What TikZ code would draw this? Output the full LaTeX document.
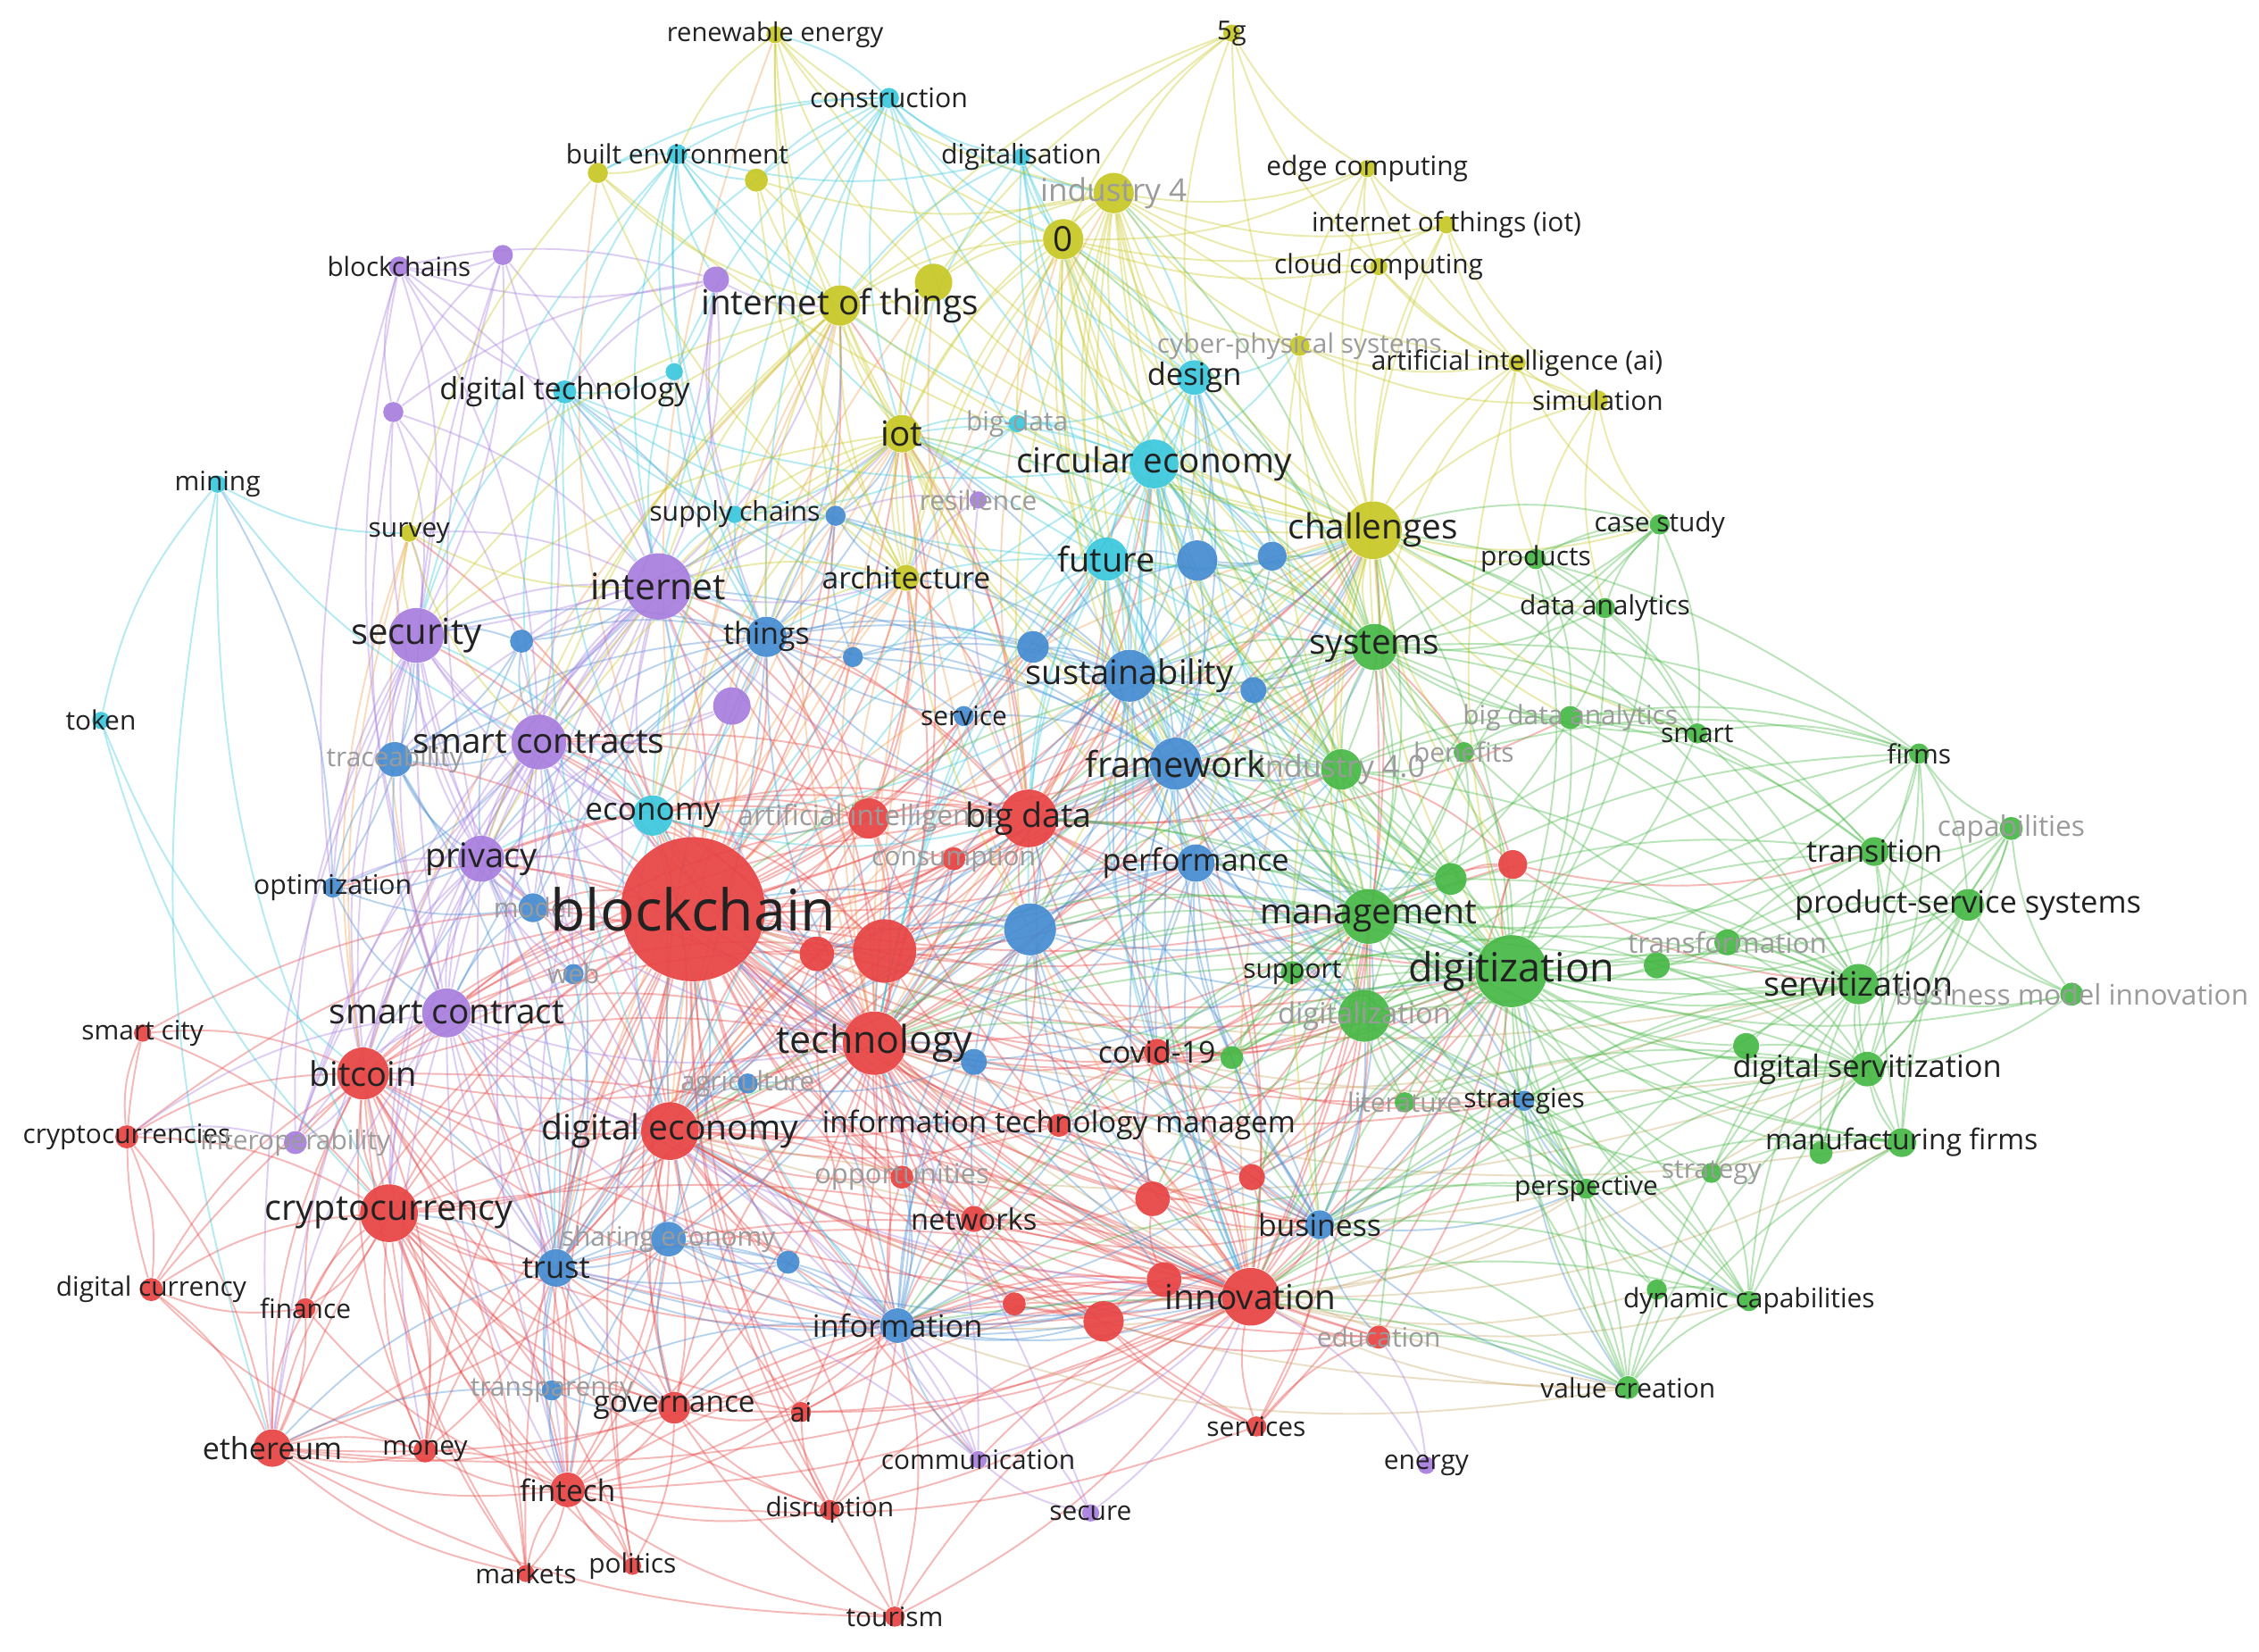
\documentclass[tikz,border=0pt]{standalone}
\usepackage{fontspec}
\setmainfont{Open Sans}
\pgfdeclarelayer{bg}
\pgfdeclarelayer{edges}
\pgfsetlayers{bg,edges,main}
\definecolor{cR}{RGB}{232,68,68}
\definecolor{cG}{RGB}{72,184,70}
\definecolor{cB}{RGB}{70,140,210}
\definecolor{cY}{RGB}{200,200,38}
\definecolor{cP}{RGB}{168,126,222}
\definecolor{cC}{RGB}{60,200,222}
\definecolor{cO}{RGB}{240,160,80}
\definecolor{cT}{RGB}{200,170,110}
\definecolor{txt}{RGB}{34,34,34}
\definecolor{gtx}{RGB}{155,155,155}
\newcommand\kd[5]{\node[dot=#4,fill=#5] (#1) at (#2,#3) {};}
\newcommand\kl[4][lab]{\node[#1,font=\fontsize{#4}{#4}\selectfont] (#2-t) at (#2) {#3};}
\newcommand\edges[3]{\foreach \nb in {#3} \draw[#1] (#2) to[bend right=14] (\nb);}
\begin{document}
\begin{tikzpicture}[x=0.016135cm,y=-0.016135cm,
  dot/.style={circle,inner sep=0pt,minimum size={#1*0.03227cm},draw=none,fill opacity=0.93},
  lab/.style={inner sep=0pt,text=txt},
  glab/.style={inner sep=0pt,text=gtx},
  ebase/.style={draw opacity=0.38,line width=0.55pt},
  eR/.style={ebase,draw=cR},
  eG/.style={ebase,draw=cG},
  eB/.style={ebase,draw=cB},
  eY/.style={ebase,draw=cY},
  eP/.style={ebase,draw=cP},
  eC/.style={ebase,draw=cC},
  eO/.style={ebase,draw=cO},
  eT/.style={ebase,draw=cT}]
\useasboundingbox (0,0) rectangle (1568,1146);
\begin{pgfonlayer}{bg}
\fill[white] (0,0) rectangle (1568,1146);
\end{pgfonlayer}
% ---------- yellow
\kd{ren}{538}{24}{6}{cY}
\kd{fiveg}{855}{23}{6}{cY}
\kd{ybe}{415}{120}{7}{cY}
\kd{yd2}{525}{125}{8}{cY}
\kd{ind4}{773}{134}{14}{cY}
\kd{zero}{738}{166}{14}{cY}
\kd{iotg}{583}{212}{14}{cY}
\kd{yd3}{648}{196}{13}{cY}
\kd{edge}{949}{117}{6}{cY}
\kd{iotp}{1004}{156}{6}{cY}
\kd{cloud}{957}{185}{6}{cY}
\kd{cps}{902}{240}{7}{cY}
\kd{aiai}{1053}{252}{6}{cY}
\kd{simu}{1109}{278}{7}{cY}
\kd{iot}{626}{301}{13}{cY}
\kd{surv}{284}{370}{6}{cY}
\kd{chal}{953}{368}{20}{cY}
\kd{arch}{629}{401}{9}{cY}
% ---------- cyan
\kd{cons}{617}{68}{7}{cC}
\kd{benv}{470}{107}{7}{cC}
\kd{digs}{709}{109}{6}{cC}
\kd{dtec}{392}{272}{8}{cC}
\kd{cd1}{468}{258}{6}{cC}
\kd{bigd}{706}{294}{6}{cC}
\kd{design}{829}{262}{12}{cC}
\kd{circ}{801}{322}{17}{cC}
\kd{mining}{151}{336}{6}{cC}
\kd{future}{768}{388}{15}{cC}
\kd{supc}{510}{357}{6}{cC}
\kd{token}{70}{500}{6}{cC}
\kd{econ}{453}{566}{14}{cC}
% ---------- purple
\kd{bchs}{277}{185}{7}{cP}
\kd{pd1}{349}{177}{7}{cP}
\kd{pd2}{497}{194}{9}{cP}
\kd{pd3}{273}{286}{7}{cP}
\kd{inet}{457}{407}{23}{cP}
\kd{secu}{289}{441}{19}{cP}
\kd{scs}{374}{515}{19}{cP}
\kd{pd4}{508}{490}{13}{cP}
\kd{resil}{679}{347}{6}{cP}
\kd{priv}{334}{596}{16}{cP}
\kd{sc}{310}{703}{17}{cP}
\kd{interop}{205}{793}{8}{cP}
\kd{comm}{679}{1013}{6}{cP}
\kd{secure}{757}{1050}{6}{cP}
\kd{energy}{990}{1017}{6}{cP}
% ---------- blue
\kd{bd1}{362}{445}{8}{cB}
\kd{things}{532}{442}{14}{cB}
\kd{bd2}{592}{456}{7}{cB}
\kd{supb}{580}{358}{7}{cB}
\kd{trace}{274}{527}{12}{cB}
\kd{serv}{669}{497}{7}{cB}
\kd{bd3}{717}{449}{11}{cB}
\kd{sust}{784}{469}{18}{cB}
\kd{bd4}{831}{389}{14}{cB}
\kd{bd5}{883}{386}{10}{cB}
\kd{bd6}{870}{479}{9}{cB}
\kd{frame}{816}{530}{18}{cB}
\kd{perf}{830}{599}{13}{cB}
\kd{optim}{231}{616}{7}{cB}
\kd{model}{370}{630}{10}{cB}
\kd{web}{398}{676}{7}{cB}
\kd{bd7}{715}{645}{18}{cB}
\kd{bd8}{676}{737}{9}{cB}
\kd{agri}{519}{752}{7}{cB}
\kd{strat}{1058}{764}{7}{cB}
\kd{sharing}{464}{860}{12}{cB}
\kd{bd9}{547}{876}{8}{cB}
\kd{trust}{386}{880}{13}{cB}
\kd{info}{623}{920}{12}{cB}
\kd{transp}{383}{965}{7}{cB}
\kd{busi}{916}{850}{10}{cB}
% ---------- red
\kd{bc}{481}{631}{50}{cR}
\kd{aint}{603}{568}{14}{cR}
\kd{bigdata}{714}{568}{20}{cR}
\kd{consum}{662}{596}{8}{cR}
\kd{rd1}{567}{662}{12}{cR}
\kd{rd2}{614}{660}{22}{cR}
\kd{tech}{607}{724}{22}{cR}
\kd{deco}{465}{785}{20}{cR}
\kd{itm}{735}{781}{8}{cR}
\kd{opp}{626}{817}{8}{cR}
\kd{netw}{676}{846}{9}{cR}
\kd{covid}{803}{730}{9}{cR}
\kd{rd3}{800}{832}{12}{cR}
\kd{rd4}{869}{817}{9}{cR}
\kd{rd5}{808}{888}{12}{cR}
\kd{innov}{868}{900}{20}{cR}
\kd{rd6}{766}{917}{14}{cR}
\kd{rd7}{704}{905}{8}{cR}
\kd{educ}{957}{928}{8}{cR}
\kd{servs}{872}{990}{7}{cR}
\kd{ai}{556}{980}{7}{cR}
\kd{gov}{468}{977}{11}{cR}
\kd{disr}{576}{1048}{7}{cR}
\kd{tour}{621}{1122}{7}{cR}
\kd{fint}{394}{1034}{12}{cR}
\kd{mark}{365}{1092}{6}{cR}
\kd{poli}{439}{1087}{6}{cR}
\kd{eth}{189}{1005}{13}{cR}
\kd{money}{295}{1007}{8}{cR}
\kd{fin}{212}{908}{7}{cR}
\kd{dcur}{105}{895}{8}{cR}
\kd{crypto}{270}{842}{20}{cR}
\kd{cryptos}{88}{789}{8}{cR}
\kd{btc}{252}{745}{18}{cR}
\kd{scity}{99}{717}{6}{cR}
\kd{rd8}{1050}{600}{10}{cR}
% ---------- green
\kd{case}{1152}{364}{7}{cG}
\kd{prod}{1066}{388}{7}{cG}
\kd{dana}{1114}{422}{7}{cG}
\kd{syst}{954}{449}{16}{cG}
\kd{bda}{1090}{498}{8}{cG}
\kd{smart}{1178}{509}{7}{cG}
\kd{bene}{1016}{522}{7}{cG}
\kd{ind40}{931}{534}{14}{cG}
\kd{firms}{1332}{523}{7}{cG}
\kd{capab}{1396}{575}{8}{cG}
\kd{trans}{1301}{591}{10}{cG}
\kd{pss}{1366}{628}{11}{cG}
\kd{gd1}{1007}{610}{11}{cG}
\kd{mgmt}{950}{636}{19}{cG}
\kd{transf}{1199}{654}{9}{cG}
\kd{gd2}{1150}{670}{9}{cG}
\kd{digz}{1049}{674}{25}{cG}
\kd{supp}{897}{675}{8}{cG}
\kd{servz}{1290}{683}{14}{cG}
\kd{bmi}{1438}{690}{8}{cG}
\kd{digl}{947}{705}{18}{cG}
\kd{gcov}{855}{734}{8}{cG}
\kd{gd3}{1212}{726}{9}{cG}
\kd{dserv}{1296}{742}{12}{cG}
\kd{lit}{975}{765}{7}{cG}
\kd{manf}{1320}{793}{10}{cG}
\kd{gd4}{1264}{800}{8}{cG}
\kd{persp}{1101}{825}{7}{cG}
\kd{strg}{1188}{814}{7}{cG}
\kd{dyn}{1214}{903}{7}{cG}
\kd{gd5}{1150}{895}{7}{cG}
\kd{valc}{1130}{963}{8}{cG}
% ================= edges
\begin{pgfonlayer}{edges}
% red
\edges{eR}{bc}{btc,crypto,cryptos,scity,dcur,fin,eth,money,fint,mark,poli,gov,ai,disr,tour,info,trust,deco,tech,rd1,rd2,aint,bigdata,consum,itm,opp,netw,covid,rd3,rd4,rd5,innov,rd6,rd7,educ,servs,secu,inet,scs,priv,sc,econ,things,sust,frame,perf,bd7,digz,mgmt,digl,optim,trace,iot,iotg,arch,circ,future,chal,syst,transp,busi,comm,sharing,bd9,model,web,agri,bd8,interop,surv,pd4,bd1,bd2,bd3,serv,supb,ind40,strat,rd8}
\edges{eR}{btc}{crypto,cryptos,scity,dcur,fin,eth,money,fint,deco,tech,gov,trust,innov,info,mark}
\edges{eR}{crypto}{cryptos,dcur,fin,eth,money,fint,mark,poli,gov,deco,tech,trust,scity,info,innov,bigdata,ai,transp,disr}
\edges{eR}{eth}{fint,money,dcur,fin,gov,tech,innov,cryptos,deco,info,tour,mark}
\edges{eR}{fint}{mark,poli,gov,disr,tour,deco,tech,innov,info,ai,money,servs,btc,trust,sharing,sc}
\edges{eR}{deco}{tech,innov,info,gov,ai,netw,opp,itm,bigdata,covid,rd6,rd5,educ,rd1,rd2,disr,agri,poli,sharing,bd9,money,priv,econ}
\edges{eR}{tech}{innov,bigdata,itm,opp,netw,covid,rd2,rd1,rd3,rd5,rd6,rd7,info,mgmt,digz,frame,perf,sust,syst,busi,chal,inet,things,iot,arch,circ,aint,consum,educ,servs,digl,strat,sc,btc,crypto,trust,priv,scs,econ,gov,model}
\edges{eR}{innov}{busi,covid,rd3,rd4,rd5,rd6,rd7,educ,servs,netw,itm,opp,info,digz,mgmt,digl,strat,syst,chal,frame,perf,tour,disr,gov,ai,rd8,bigdata,bd7,rd2,deco,fint,btc,crypto,comm,sharing,trust}
\edges{eR}{bigdata}{aint,consum,rd2,rd1,frame,perf,sust,syst,mgmt,digz,iot,iotg,circ,chal,things,ind40,bd7,arch,econ,future,bda,deco,covid,sc,scs,priv,inet,trust}
\edges{eR}{covid}{digz,mgmt,digl,rd3,busi,strat,supp,gcov,itm,rd2}
\edges{eR}{rd2}{rd1,aint,consum,bd7,frame,perf,sust,inet,scs,econ,deco,itm,btc,sc}
\edges{eR}{aint}{consum,rd1,econ,iot,chal,syst,arch,deco,innov,sc,priv,scs,inet,things}
\edges{eR}{netw}{info,opp,rd7,rd6,itm,busi,rd3,deco,bigdata}
\edges{eR}{rd3}{busi,digz,mgmt,rd5,rd4}
\edges{eR}{rd4}{mgmt,digl,busi,digz}
\edges{eR}{rd5}{rd6,info,busi}
\edges{eR}{rd6}{info,rd7,educ,servs}
\edges{eR}{gov}{ai,transp,info,disr,tour,tech,innov,trust,sharing}
\edges{eR}{scity}{cryptos,dcur}
\edges{eR}{dcur}{fin,cryptos,money}
\edges{eR}{educ}{digz,servs}
\edges{eR}{rd8}{digz,mgmt,ind40,syst,trans,servz,gd1}
\edges{eR}{itm}{opp,digz,mgmt,busi}
\edges{eR}{ai}{tech,info,innov,disr}
\edges{eR}{tour}{innov,info,deco}
\edges{eR}{disr}{innov,tech,info}
\edges{eR}{servs}{digz,mgmt,busi}
\edges{eR}{opp}{tech,deco,innov,info}
\edges{eR}{rd1}{tech,deco,innov,info}
\edges{eR}{money}{fint,eth,crypto,btc,trust}
\edges{eR}{mark}{fint,btc,crypto}
\edges{eR}{poli}{fint,gov,crypto}
\edges{eR}{fin}{eth,crypto,fint}
% orange / tan cross links
\foreach \na/\nb in {iotg/bc,iot/bc,arch/bc,iot/tech,chal/tech,chal/innov,arch/tech,iotg/tech,yd3/bigdata,surv/sc,ybe/bc,zero/bigdata,iotg/deco,arch/deco,chal/bc,ind4/tech,iot/deco,iotg/btc,surv/btc,iot/innov,arch/trust,chal/deco,yd3/bc,zero/tech,ren/bc,surv/crypto}
  \draw[eO] (\na) to[bend right=14] (\nb);
\foreach \na/\nb in {innov/valc,innov/dyn,innov/persp,innov/manf,tech/servz,deco/dserv,innov/gd5,tech/valc,info/valc,deco/persp,bc/servz,innov/dserv,info/persp,tech/manf,deco/valc,bc/dserv}
  \draw[eT] (\na) to[bend right=14] (\nb);
% blue
\edges{eB}{frame}{sust,perf,bd3,bd4,bd5,bd6,bd7,future,circ,syst,mgmt,digz,ind40,digl,chal,things,serv,bd2,tech,info,trust,busi,strat,design,supb,inet,gd1,bigdata,deco,innov,covid,rd2,rd3}
\edges{eB}{sust}{bd3,bd4,bd5,bd6,perf,circ,future,design,chal,syst,ind40,mgmt,digz,things,serv,supb,arch,bd7,iot,bd2,digl,tech,bigdata,innov,deco,covid}
\edges{eB}{perf}{mgmt,digz,digl,bd7,busi,strat,supp,syst,ind40,info,gd1,gcov,tech,innov,deco,bigdata,rd2,covid}
\edges{eB}{trust}{info,transp,sharing,bd9,deco,gov,fint,trace,model,web,priv,scs,sc,things,btc,crypto,eth,bc,tech,innov}
\edges{eB}{info}{sharing,bd9,busi,transp,opp,netw,perf,strat,deco,comm,gov,tech,innov,bc,rd6,rd5,rd7,digz,mgmt}
\edges{eB}{things}{inet,secu,bd1,bd2,supb,iot,iotg,arch,serv,scs,priv,trace,pd4,model,econ,dtec,tech,bigdata,deco,sc,btc}
\edges{eB}{trace}{secu,scs,sc,priv,model,bd1,optim,inet}
\edges{eB}{bd7}{tech,bigdata,perf,frame,sust,digz,mgmt,info,busi,innov,rd2,bd8,deco,bc,rd1,covid,itm,opp,netw,rd3,rd5}
\edges{eB}{busi}{digz,mgmt,strat,persp,digl,educ,valc,tech,bc,deco,bigdata,covid}
\edges{eB}{sharing}{bd9,deco,info,fint,gov,tech,innov,bc}
\edges{eB}{optim}{priv,scs,secu,model,mining,sc}
\edges{eB}{bd4}{bd5,future,circ,chal,design,syst,bd3}
\edges{eB}{bd5}{chal,syst,circ,design}
\edges{eB}{bd6}{syst,ind40,chal,mgmt}
\edges{eB}{bd3}{bd2,things,serv,future}
\edges{eB}{model}{priv,sc,web,scs}
\edges{eB}{agri}{tech,deco,bd8}
\edges{eB}{bd8}{tech,info,mgmt,innov}
\edges{eB}{strat}{digz,mgmt,persp,valc,dyn}
\edges{eB}{transp}{fint,gov,eth}
\edges{eB}{bd1}{inet,secu,scs,priv}
\edges{eB}{bd9}{deco,info,trust}
\edges{eB}{supb}{inet,things,iot,arch,bd2}
\edges{eB}{serv}{things,tech,bigdata}
% purple
\edges{eP}{inet}{secu,scs,sc,priv,pd4,bd1,bchs,pd1,pd2,pd3,surv,iotg,dtec,model,web,btc,interop,trace,crypto,fint,tech,deco,bigdata,econ,iot,arch}
\edges{eP}{secu}{scs,priv,sc,bchs,pd1,pd3,surv,trace,optim,model,btc,crypto,interop,eth,tech,deco,econ,iot}
\edges{eP}{scs}{priv,sc,btc,crypto,eth,pd4,bchs,pd1,pd2,pd3,model,web,interop,fint,tech,deco,econ,trust,info}
\edges{eP}{priv}{sc,model,web,optim,btc,interop,crypto,tech,deco,trust,econ}
\edges{eP}{sc}{btc,eth,crypto,interop,web,fint,cryptos,money,tech,deco,trust,info,innov,gov}
\edges{eP}{bchs}{pd3,pd1,dtec,pd2,sc,btc}
\edges{eP}{pd1}{pd3,priv,sc}
\edges{eP}{pd2}{dtec,iotg,things,bchs,pd3,supc}
\edges{eP}{pd3}{priv,sc}
\edges{eP}{pd4}{things,priv,bc}
\edges{eP}{comm}{secure,info,tech,innov,deco,sc,trust}
\edges{eP}{secure}{info,scs,innov}
\edges{eP}{energy}{educ,innov}
\edges{eP}{resil}{iot,arch,supb,bigdata}
\edges{eP}{interop}{btc,cryptos}
% cyan
\edges{eC}{cons}{benv,digs,ren,iotg,yd2,ybe,dtec,cd1,design,circ,future,supc,things,inet,iot,zero,ind4}
\edges{eC}{benv}{digs,dtec,cd1,iotg,pd2,supc,inet,things,ybe,yd2,future,circ,secu}
\edges{eC}{digs}{zero,ind4,design,circ,iotg,iot,future,digl,syst}
\edges{eC}{dtec}{cd1,supc,inet,secu,things,econ,sust,circ,future,deco,scs}
\edges{eC}{circ}{design,future,bigd,sust,chal,syst,frame,bd4,bd5,iot,ind40,mgmt,digz,digl,cps,tech,bc,bigdata,innov,deco,perf}
\edges{eC}{design}{future,cps,zero,ind4,chal,syst,bd4,sust,frame,tech,mgmt,digz}
\edges{eC}{future}{sust,frame,bd4,bd3,chal,syst,mgmt,digz,iot,things,tech,bc,bigdata,innov,perf,bd7}
\edges{eC}{mining}{surv,eth,crypto,scs,token}
\edges{eC}{token}{crypto,btc}
\edges{eC}{econ}{deco,scs,priv,aint,bigdata,sust,tech,inet,secu,things,trust,info,innov}
\edges{eC}{supc}{supb,things,inet,arch,iot,bigd,econ}
\edges{eC}{bigd}{iot,circ,design,arch}
\edges{eC}{cd1}{inet,things,pd2}
% yellow
\edges{eY}{ren}{iotg,zero,ind4,yd3,chal,arch,iot,benv}
\edges{eY}{fiveg}{zero,ind4,iotg,yd3,edge,cloud,chal,design}
\edges{eY}{ybe}{benv,surv,arch,iotg,chal}
\edges{eY}{yd2}{iotg,ind4,chal,arch}
\edges{eY}{ind4}{zero,iotg,yd3,edge,cloud,iotp,cps,chal,syst,iot,arch,design,frame,ind40,mgmt,digz,aiai,sust,circ,future,bigdata}
\edges{eY}{zero}{iotg,yd3,iot,chal,cps,syst,design,circ,frame,sust,arch,edge,cloud,iotp,mgmt,digz,perf,ind40,bigd}
\edges{eY}{iotg}{yd3,iot,arch,things,inet,surv,chal,secu,sust,frame,scs,priv,econ,supb}
\edges{eY}{yd3}{iot,arch,chal}
\edges{eY}{edge}{iotp,cloud,aiai,chal,cps}
\edges{eY}{iotp}{cloud,aiai,simu,chal,syst}
\edges{eY}{cloud}{aiai,cps,chal,simu}
\edges{eY}{cps}{aiai,simu,chal,syst,ind40}
\edges{eY}{aiai}{simu,chal,syst,case,prod,digz}
\edges{eY}{simu}{chal,case,prod,dana}
\edges{eY}{iot}{arch,things,chal,inet,secu,supb,sust,frame,perf,scs,priv,bd7,econ}
\edges{eY}{surv}{secu,inet,scs}
\edges{eY}{chal}{syst,prod,dana,case,ind40,mgmt,digz,sust,frame,bda,smart,bene,perf,busi,rd8,digl,bd7}
\edges{eY}{arch}{things,inet,supb}
% green
\edges{eG}{digz}{mgmt,digl,supp,servz,dserv,trans,pss,transf,gd2,gd3,manf,gd4,persp,strg,dyn,gd5,valc,firms,capab,smart,bda,bene,ind40,syst,prod,dana,case,bmi,lit,gcov,gd1,frame,sust,perf,tech,innov,busi,covid,info,strat,chal,bd7,bigdata,deco,rd3,rd4,itm,netw,educ}
\edges{eG}{mgmt}{digl,supp,syst,ind40,gd1,bene,bda,servz,dserv,manf,trans,pss,persp,lit,gcov,firms,frame,sust,perf,tech,innov,busi,covid,info,chal,bd7,bigdata,deco,rd2,rd3,future,circ}
\edges{eG}{syst}{ind40,bda,bene,prod,dana,case,smart,gd1,servz,frame,sust,circ,future,design,bd4,bd5,bd6,bigdata,tech,bc,iot,zero,ind4}
\edges{eG}{servz}{dserv,pss,trans,transf,firms,capab,manf,gd3,gd4,bmi,persp,strg,dyn,valc,smart,busi,innov,strat,lit,digl,gd1,supp,mgmt,syst,chal,ind40,bda}
\edges{eG}{dserv}{pss,trans,manf,gd3,gd4,firms,capab,bmi,strg,dyn,valc,persp,busi,innov,strat,lit,digl,mgmt,gd2,transf}
\edges{eG}{pss}{trans,capab,firms,bmi,manf,transf}
\edges{eG}{trans}{capab,firms,smart,transf,bmi,syst,mgmt,chal,bda,digl}
\edges{eG}{firms}{capab,smart,bda,manf,syst,mgmt,chal,digl,bene}
\edges{eG}{capab}{bmi,manf,gd4}
\edges{eG}{manf}{gd4,strg,dyn,valc,persp}
\edges{eG}{persp}{strg,dyn,gd5,valc,lit,busi,strat,mgmt,digl,innov,info}
\edges{eG}{dyn}{gd5,valc,strg,busi,mgmt,digl,strat,innov}
\edges{eG}{gd5}{valc}
\edges{eG}{smart}{bda,dana,case,prod,ind40,syst,mgmt,chal}
\edges{eG}{bda}{bene,dana,ind40,prod}
\edges{eG}{case}{dana,prod,syst,chal,mgmt,digl}
\edges{eG}{dana}{prod}
\edges{eG}{ind40}{bene,gd1,digl,supp,frame,sust,bd6,chal,iot,bigdata,tech,circ}
\edges{eG}{digl}{supp,gcov,lit,gd1,persp,strg}
\edges{eG}{gd2}{transf,servz}
\edges{eG}{valc}{digl,busi,innov,strat,info,mgmt,educ}
\edges{eG}{gd1}{frame,perf,sust,supp,bene}
\edges{eG}{gcov}{supp,busi,covid,tech}
\end{pgfonlayer}
% ================= labels
\kl{ren}{renewable energy}{8.3pt}
\kl{fiveg}{5g}{8.3pt}
\kl{cons}{construction}{8.6pt}
\kl{benv}{built environment}{8.5pt}
\kl{digs}{digitalisation}{8.6pt}
\kl[glab]{ind4}{industry 4}{10pt}
\kl{zero}{0}{11pt}
\kl{edge}{edge computing}{8.5pt}
\kl{iotp}{internet of things (iot)}{8.5pt}
\kl{cloud}{cloud computing}{8.5pt}
\kl{bchs}{blockchains}{8.4pt}
\kl{iotg}{internet of things}{11pt}
\kl[glab]{cps}{cyber-physical systems}{8.5pt}
\kl{aiai}{artificial intelligence (ai)}{8.5pt}
\kl{dtec}{digital technology}{9.7pt}
\kl{design}{design}{9.8pt}
\kl{simu}{simulation}{8.5pt}
\kl{iot}{iot}{11pt}
\kl[glab]{bigd}{big-data}{8.5pt}
\kl{circ}{circular economy}{11pt}
\kl{mining}{mining}{8.5pt}
\kl{supc}{supply chains}{8.6pt}
\kl[glab]{resil}{resilience}{8.5pt}
\kl{case}{case study}{8.5pt}
\kl{surv}{survey}{8.5pt}
\kl{chal}{challenges}{11pt}
\kl{prod}{products}{8.5pt}
\kl{future}{future}{10.8pt}
\kl{arch}{architecture}{9.6pt}
\kl{inet}{internet}{11.6pt}
\kl{dana}{data analytics}{8.5pt}
\kl{secu}{security}{11.4pt}
\kl{things}{things}{9.6pt}
\kl{syst}{systems}{11pt}
\kl{sust}{sustainability}{10.8pt}
\kl{token}{token}{8.5pt}
\kl{serv}{service}{8.5pt}
\kl[glab]{bda}{big data analytics}{8.5pt}
\kl[glab]{bene}{benefits}{8.5pt}
\kl{smart}{smart}{8.5pt}
\kl[glab]{trace}{traceability}{8.5pt}
\kl{scs}{smart contracts}{11pt}
\kl[glab]{ind40}{industry 4.0}{9.7pt}
\kl{frame}{framework}{11.3pt}
\kl{firms}{firms}{8.5pt}
\kl[glab]{aint}{artificial intelligence}{9pt}
\kl{econ}{economy}{10pt}
\kl{bigdata}{big data}{10.7pt}
\kl[glab]{capab}{capabilities}{9pt}
\kl{priv}{privacy}{10.8pt}
\kl[glab]{consum}{consumption}{8.5pt}
\kl{perf}{performance}{9.8pt}
\kl{trans}{transition}{9.7pt}
\kl{optim}{optimization}{8.6pt}
\kl[glab]{model}{model}{8.5pt}
\kl{bc}{blockchain}{18.3pt}
\kl{mgmt}{management}{11.1pt}
\kl{pss}{product-service systems}{9.8pt}
\kl[glab]{transf}{transformation}{9pt}
\kl{digz}{digitization}{12.8pt}
\kl{supp}{support}{8.5pt}
\kl[glab]{web}{web}{8.5pt}
\kl{servz}{servitization}{10.7pt}
\kl[glab]{bmi}{business model innovation}{9pt}
\kl{sc}{smart contract}{11pt}
\kl[glab]{digl}{digitalization}{9.3pt}
\kl{scity}{smart city}{8.5pt}
\kl{tech}{technology}{12.2pt}
\kl{covid}{covid-19}{9.6pt}
\kl{dserv}{digital servitization}{9.8pt}
\kl{btc}{bitcoin}{10.8pt}
\kl[glab]{agri}{agriculture}{8.5pt}
\kl{strat}{strategies}{8.5pt}
\kl{cryptos}{cryptocurrencies}{8.5pt}
\kl[glab]{interop}{interoperability}{8.5pt}
\kl{deco}{digital economy}{11.1pt}
\kl{itm}{information technology managem}{9.5pt}
\kl{manf}{manufacturing firms}{9.1pt}
\kl[glab]{opp}{opportunities}{8.8pt}
\kl[glab]{strg}{strategy}{8.5pt}
\kl{persp}{perspective}{8.5pt}
\kl{crypto}{cryptocurrency}{11.3pt}
\kl{netw}{networks}{9.3pt}
\kl{busi}{business}{9.6pt}
\kl{trust}{trust}{9.8pt}
\kl{dcur}{digital currency}{8.5pt}
\kl{fin}{finance}{8.5pt}
\kl{innov}{innovation}{11pt}
\kl{dyn}{dynamic capabilities}{8.5pt}
\kl{info}{information}{9.8pt}
\kl[glab]{educ}{education}{8.5pt}
\kl{valc}{value creation}{8.5pt}
\kl[glab]{transp}{transparency}{8.5pt}
\kl{gov}{governance}{9.5pt}
\kl{ai}{ai}{8.5pt}
\kl{eth}{ethereum}{9.7pt}
\kl{money}{money}{8.5pt}
\kl{servs}{services}{8.5pt}
\kl{comm}{communication}{8.5pt}
\kl{energy}{energy}{8.5pt}
\kl{fint}{fintech}{9.5pt}
\kl{disr}{disruption}{8.5pt}
\kl{secure}{secure}{8.5pt}
\kl{mark}{markets}{8.5pt}
\kl{poli}{politics}{8.5pt}
\kl{tour}{tourism}{8.5pt}
\kl[glab]{sharing}{sharing economy}{8.5pt}
\kl[glab]{lit}{literature}{8.5pt}
\end{tikzpicture}
\end{document}
